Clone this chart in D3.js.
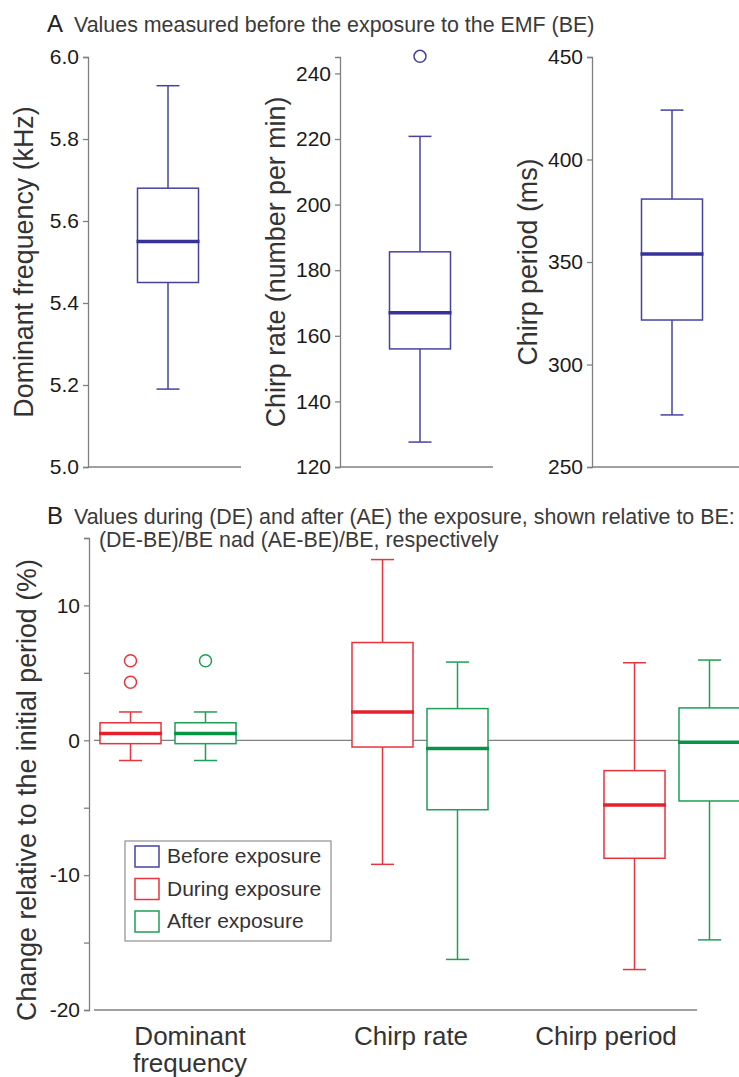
<!DOCTYPE html>
<html>
<head>
<meta charset="utf-8">
<script src="https://cdn.jsdelivr.net/npm/d3@7"></script>
<style>
  body { margin: 0; background: #fff; }
  svg { display: block; font-family: Arial, "Liberation Sans", sans-serif; }
</style>
</head>
<body>
<svg id="chart" width="739" height="1077"></svg>
<script>
// values
var measures = ["Dominant frequency", "Chirp rate", "Chirp period"];
var catLabels = [["Dominant", "frequency"], ["Chirp rate"], ["Chirp period"]];
var beTitles = ["Dominant frequency (kHz)", "Chirp rate (number per min)", "Chirp period (ms)"];
var beDomains = [[5.0, 6.0], [120, 245], [250, 450]];
var beTicks = [
  [5.0, 5.2, 5.4, 5.6, 5.8, 6.0],
  [120, 140, 160, 180, 200, 220, 240],
  [250, 300, 350, 400, 450]
];
var beTickFmt = [".1f", "d", "d"];

// [low whisker, q1, median, q3, high whisker]
var beStats = [
  [5.19, 5.45, 5.55, 5.68, 5.93],
  [127.6, 156.0, 167.0, 185.6, 220.8],
  [275.4, 321.7, 353.9, 380.7, 424.1]
];
var beOutliers = [[], [245.2], []];

var deStats = [
  [-1.5, -0.25, 0.5, 1.3, 2.1],
  [-9.2, -0.5, 2.1, 7.25, 13.4],
  [-17.0, -8.75, -4.8, -2.25, 5.75]
];
var deOutliers = [[5.9, 4.3], [], []];

var aeStats = [
  [-1.5, -0.25, 0.5, 1.3, 2.1],
  [-16.25, -5.15, -0.6, 2.35, 5.8],
  [-14.8, -4.5, -0.15, 2.4, 5.95]
];
var aeOutliers = [[5.9], [], []];

var relDomain = [-20, 15];
var relTicks = [-20, -15, -10, -5, 0, 5, 10, 15];

var groups = ["Before exposure", "During exposure", "After exposure"];
var colors = ["#4643a0", "#e8343c", "#1f9f57"];
var medColors = ["#37329a", "#e3202b", "#099345"];

var svg = d3.select("#chart");
var axisColor = "#808080";

// one x position per measure, shared by both panels
var x = d3.scalePoint().domain(measures).range([168, 672]);
var side = d3.scalePoint().domain(["DE", "AE"]).range([-37.5, 37.5]);

function drawBox(g, s, outl, cx, y, ci) {
  var hw = 30.5, cw = 11.5;
  var col = colors[ci];
  var b = g.append("g").attr("stroke", col).attr("fill", "none").attr("stroke-width", 1.5);
  b.append("line").attr("x1", cx).attr("x2", cx).attr("y1", y(s[4])).attr("y2", y(s[3]));
  b.append("line").attr("x1", cx).attr("x2", cx).attr("y1", y(s[1])).attr("y2", y(s[0]));
  b.append("line").attr("x1", cx - cw).attr("x2", cx + cw).attr("y1", y(s[4])).attr("y2", y(s[4]));
  b.append("line").attr("x1", cx - cw).attr("x2", cx + cw).attr("y1", y(s[0])).attr("y2", y(s[0]));
  b.append("rect")
    .attr("x", cx - hw).attr("width", hw * 2)
    .attr("y", y(s[3])).attr("height", y(s[1]) - y(s[3]))
    .attr("fill", "#fff");
  b.append("line")
    .attr("x1", cx - hw - 1).attr("x2", cx + hw + 1)
    .attr("y1", y(s[2])).attr("y2", y(s[2]))
    .attr("stroke", medColors[ci]).attr("stroke-width", 3.5);
  b.selectAll("circle").data(outl).enter().append("circle")
    .attr("cx", cx).attr("cy", function(d) { return y(d); }).attr("r", 6)
    .attr("fill", "#fff");
}

function styleAxis(ax) {
  ax.select(".domain").attr("stroke", axisColor).attr("stroke-width", 1.3);
  ax.selectAll(".tick line").attr("stroke", axisColor).attr("stroke-width", 1.3);
  ax.selectAll(".tick text").attr("fill", "#1a1a1a").style("font-size", "21px");
}

// ---- panel A
var titleA = svg.append("text").attr("x", 47).attr("y", 32).attr("fill", "#222");
titleA.append("tspan").style("font-size", "24px").text("A");
titleA.append("tspan").attr("dx", 11).attr("fill", "#3a3a3a").style("font-size", "21.4px")
  .text("Values measured before the exposure to the EMF (BE)");

measures.forEach(function(m, i) {
  var ax0 = x(m) - 80;
  var y = d3.scaleLinear().domain(beDomains[i]).range([467, 57]);
  var g = svg.append("g");

  var ax = g.append("g").attr("transform", "translate(" + ax0 + ",0)")
    .call(d3.axisLeft(y).tickValues(beTicks[i]).tickFormat(d3.format(beTickFmt[i]))
      .tickSizeOuter(0).tickSize(5).tickPadding(4));
  styleAxis(ax);

  g.append("line").attr("x1", ax0).attr("x2", ax0 + 153).attr("y1", y(beDomains[i][0])).attr("y2", y(beDomains[i][0]))
    .attr("stroke", axisColor).attr("stroke-width", 1.3);

  g.append("text")
    .attr("transform", "translate(" + (ax0 - 55) + "," + 262 + ") rotate(-90)")
    .attr("text-anchor", "middle").attr("fill", "#333").style("font-size", "26.8px")
    .text(beTitles[i]);

  drawBox(g, beStats[i], beOutliers[i], x(m), y, 0);
});

// ---- panel B
var titleB = svg.append("text").attr("x", 47).attr("y", 524).attr("fill", "#222");
titleB.append("tspan").style("font-size", "24px").text("B");
titleB.append("tspan").attr("dx", 11).attr("fill", "#3a3a3a").style("font-size", "21.4px")
  .text("Values during (DE) and after (AE) the exposure, shown relative to BE:");
svg.append("text").attr("x", 99).attr("y", 547).attr("fill", "#3a3a3a").style("font-size", "21.4px")
  .text("(DE-BE)/BE nad (AE-BE)/BE, respectively");

var yB = d3.scaleLinear().domain(relDomain).range([1010, 538]);
var gB = svg.append("g");

var axB = gB.append("g").attr("transform", "translate(89,0)")
  .call(d3.axisLeft(yB).tickValues(relTicks).tickSizeOuter(0).tickSize(5).tickPadding(4)
    .tickFormat(function(d) { return d % 10 === 0 ? d : ""; }));
styleAxis(axB);

// zero line + bottom line
gB.append("line").attr("x1", 94).attr("x2", 739).attr("y1", yB(0)).attr("y2", yB(0))
  .attr("stroke", axisColor).attr("stroke-width", 1.3);
gB.append("line").attr("x1", 94).attr("x2", 697).attr("y1", yB(-20)).attr("y2", yB(-20))
  .attr("stroke", axisColor).attr("stroke-width", 1.3);

gB.append("text")
  .attr("transform", "translate(36,790) rotate(-90)")
  .attr("text-anchor", "middle").attr("fill", "#333").style("font-size", "26.8px")
  .text("Change relative to the initial period (%)");

measures.forEach(function(m, i) {
  drawBox(gB, deStats[i], deOutliers[i], x(m) + side("DE"), yB, 1);
  drawBox(gB, aeStats[i], aeOutliers[i], x(m) + side("AE"), yB, 2);
});

// category labels, shifted a bit like in the original
var catDx = [22, -9, -66];
measures.forEach(function(m, i) {
  var t = gB.append("text").attr("text-anchor", "middle").attr("fill", "#333").style("font-size", "26px");
  catLabels[i].forEach(function(line, j) {
    t.append("tspan").attr("x", x(m) + catDx[i]).attr("y", 1045 + j * 27).text(line);
  });
});

// legend
var leg = gB.append("g").attr("transform", "translate(125,841)");
leg.append("rect").attr("width", 206).attr("height", 100).attr("fill", "#fff")
  .attr("stroke", "#999").attr("stroke-width", 1.3);
var row = leg.selectAll(".row").data(groups).enter().append("g")
  .attr("transform", function(d, i) { return "translate(10," + (5 + i * 32.5) + ")"; });
row.append("rect").attr("width", 24).attr("height", 21).attr("fill", "none")
  .attr("stroke", function(d, i) { return colors[i]; }).attr("stroke-width", 1.5);
row.append("text").attr("x", 32).attr("y", 17).attr("fill", "#333").style("font-size", "21px")
  .text(function(d) { return d; });
</script>
</body>
</html>
